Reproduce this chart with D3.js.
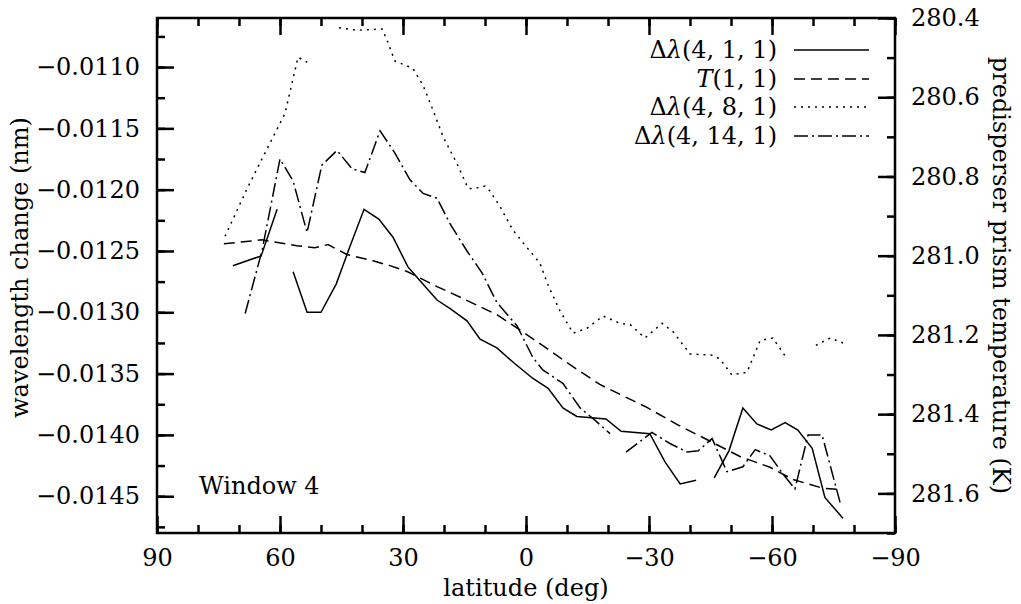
<!DOCTYPE html>
<html><head><meta charset="utf-8">
<script src="https://cdn.jsdelivr.net/npm/d3@7"></script>
<style>
body{margin:0;background:#fff;}
svg text{font-family:"DejaVu Serif",serif;font-size:24px;fill:#000;}
</style></head>
<body><svg id="c" width="1021" height="604"></svg>
<script>
// ---- data ----
const latSolid = [71.5,64.6,60.7,58.8,56.8,53.4,50.0,46.3,42.9,39.5,35.9,32.4,28.8,25.9,21.7,18.5,14.4,11.2,7.1,2.7,-1.7,-5.4,-9.0,-12.4,-19.5,-23.2,-30.2,-33.9,-37.6,-41.5,-43.7,-45.9,-49.5,-52.9,-56.3,-59.8,-63.2,-66.3,-69.8,-72.9,-77.3];
const valSolid = [-0.01262,-0.01254,-0.01216,null,-0.01267,-0.01300,-0.01300,-0.01277,-0.01246,-0.01216,-0.01224,-0.01239,-0.01263,-0.01274,-0.01290,-0.01297,-0.01307,-0.01322,-0.01329,-0.01342,-0.01354,-0.01362,-0.01378,-0.01385,-0.01387,-0.01397,-0.01399,-0.01422,-0.01440,-0.01437,null,-0.01435,-0.01413,-0.01378,-0.01391,-0.01396,-0.01390,-0.01396,-0.01411,-0.01451,-0.01468];

const latTemp = [73.7,64.4,55.9,51.5,48.3,43.7,37.3,33.2,29.0,21.7,15.4,7.1,1.5,-4.1,-10.0,-18.0,-26.1,-29.5,-36.8,-44.1,-52.2,-59.5,-65.1,-72.4,-76.6];
const valTemp = [280.970,280.960,280.975,280.980,280.972,280.997,281.013,281.025,281.040,281.078,281.108,281.149,281.187,281.227,281.270,281.325,281.366,281.383,281.426,281.464,281.507,281.534,281.565,281.587,281.590];

const latDot = [73.4,68.0,64.4,58.8,55.6,52.9,49.0,45.6,41.2,35.1,33.9,32.0,27.6,25.1,22.7,20.2,16.8,14.1,12.4,10.0,8.8,6.3,3.2,-0.2,-3.4,-5.4,-8.3,-11.5,-14.9,-18.8,-22.9,-25.4,-29.0,-33.2,-35.9,-40.0,-45.4,-47.3,-50.2,-53.9,-57.1,-60.2,-63.7,-67.0,-70.7,-74.2,-77.3];
const valDot = [-0.01238,-0.01199,-0.01175,-0.01138,-0.01092,-0.01097,null,-0.01068,-0.01070,-0.01069,-0.01078,-0.01095,-0.01101,-0.01115,-0.01135,-0.01157,-0.01179,-0.01199,-0.01199,-0.01197,-0.01201,-0.01214,-0.01233,-0.01247,-0.01260,-0.01278,-0.01299,-0.01317,-0.01313,-0.01303,-0.01309,-0.01310,-0.01321,-0.01309,-0.01316,-0.01334,-0.01335,-0.01338,-0.01351,-0.01349,-0.01323,-0.01321,-0.01338,null,-0.01327,-0.01321,-0.01325];

const latDashDot = [68.5,64.4,60.0,56.8,53.4,49.8,46.1,42.4,39.3,35.6,32.0,28.3,25.1,21.7,18.5,14.4,10.7,7.1,2.2,-1.7,-4.1,-9.0,-13.2,-16.8,-20.5,-22.5,-24.4,-30.7,-35.1,-39.3,-42.0,-45.4,-49.0,-52.9,-55.9,-59.5,-62.7,-65.6,-68.8,-72.2,-76.6];
const valDashDot = [-0.01301,-0.01250,-0.01175,-0.01193,-0.01235,-0.01180,-0.01168,-0.01183,-0.01186,-0.01152,-0.01170,-0.01192,-0.01203,-0.01207,-0.01228,-0.01250,-0.01268,-0.01292,-0.01311,-0.01337,-0.01347,-0.01358,-0.01378,-0.01388,-0.01399,null,-0.01414,-0.01398,-0.01407,-0.01414,-0.01413,-0.01403,-0.01430,-0.01426,-0.01412,-0.01417,-0.01432,-0.01444,-0.01400,-0.01400,-0.01455];

const xTicks = [90,60,30,0,-30,-60,-90];
const yLeftTicks = [-0.0110,-0.0115,-0.0120,-0.0125,-0.0130,-0.0135,-0.0140,-0.0145];
const yRightTicks = [280.4,280.6,280.8,281.0,281.2,281.4,281.6];

const legendLabels = [
  [["Δ",""],["λ","i"],["(4, 1, 1)",""]],
  [["T","i"],["(1, 1)",""]],
  [["Δ",""],["λ","i"],["(4, 8, 1)",""]],
  [["Δ",""],["λ","i"],["(4, 14, 1)",""]]
];

// ---- layout ----
const L=157, R=895, T=18, B=533;
const svg = d3.select("#c");
const x = d3.scaleLinear().domain([90,-90]).range([L,R]);
const yL = d3.scaleLinear().domain([-0.0148,-0.0106]).range([B,T]);
const yR = d3.scaleLinear().domain([280.4,281.7]).range([T,B]);

const minus = s => s.replace(/-/g,"\u2212");
const MAJ=17, MIN=8;

function styleAxis(g){
  g.select(".domain").remove();
  g.selectAll("line").attr("stroke","#000").attr("stroke-width",2.5);
  g.selectAll("text").attr("font-family","DejaVu Serif").attr("font-size",24);
}
// minor tick ranges
const xMinor = d3.range(90,-91,-10);
const yLMinor = d3.range(0,17).map(i=>-0.0107-0 - 0 + (-0.00025*i) ).map(v=>+v.toFixed(5)).filter(v=>v>=-0.0148&&v<=-0.0106);
const yLMinorAll = d3.range(-0.01475,-0.0106,0.00025).map(v=>+v.toFixed(5));
const yRMinor = d3.range(280.4,281.71,0.1).map(v=>+v.toFixed(1));

// bottom
svg.append("g").attr("transform",`translate(0,${B})`)
  .call(d3.axisBottom(x).tickValues(xMinor).tickSize(-MIN).tickFormat("")).call(styleAxis);
svg.append("g").attr("transform",`translate(0,${B})`)
  .call(d3.axisBottom(x).tickValues(xTicks).tickSize(-MAJ).tickPadding(10).tickFormat(d=>minus(String(d)))).call(styleAxis)
  .selectAll("text").attr("dy","0.95em");
// top
svg.append("g").attr("transform",`translate(0,${T})`)
  .call(d3.axisTop(x).tickValues(xMinor).tickSize(-MIN).tickFormat("")).call(styleAxis);
svg.append("g").attr("transform",`translate(0,${T})`)
  .call(d3.axisTop(x).tickValues(xTicks).tickSize(-MAJ).tickFormat("")).call(styleAxis);
// left
svg.append("g").attr("transform",`translate(${L},0)`)
  .call(d3.axisLeft(yL).tickValues(yLMinorAll).tickSize(-MIN).tickFormat("")).call(styleAxis);
svg.append("g").attr("transform",`translate(${L},0)`)
  .call(d3.axisLeft(yL).tickValues(yLeftTicks).tickSize(-MAJ).tickPadding(17).tickFormat(d=>minus(d3.format(".4f")(d)))).call(styleAxis);
// right
svg.append("g").attr("transform",`translate(${R},0)`)
  .call(d3.axisRight(yR).tickValues(yRMinor).tickSize(-MIN).tickFormat("")).call(styleAxis);
svg.append("g").attr("transform",`translate(${R},0)`)
  .call(d3.axisRight(yR).tickValues(yRightTicks).tickSize(-MAJ).tickPadding(16).tickFormat(d3.format(".1f"))).call(styleAxis);

// frame
svg.append("rect").attr("x",L).attr("y",T).attr("width",R-L).attr("height",B-T)
  .attr("fill","none").attr("stroke","#000").attr("stroke-width",2.5);

// clip
svg.append("clipPath").attr("id","clip").append("rect").attr("x",L).attr("y",T).attr("width",R-L).attr("height",B-T);
const plot = svg.append("g").attr("clip-path","url(#clip)");

const styles = [
  {lat:latSolid, val:valSolid, y:yL, dash:null},
  {lat:latTemp, val:valTemp, y:yR, dash:"11,6"},
  {lat:latDot, val:valDot, y:yL, dash:"2,5"},
  {lat:latDashDot, val:valDashDot, y:yL, dash:"14,4,2,4"}
];
styles.forEach(s=>{
  const pts = s.lat.map((la,i)=>({la, v:s.val[i]}));
  const line = d3.line().defined(d=>d.v!=null).x(d=>x(d.la)).y(d=>s.y(d.v));
  plot.append("path").attr("d",line(pts)).attr("fill","none").attr("stroke","#000")
    .attr("stroke-width",1.5).attr("stroke-dasharray",s.dash);
});

// legend
const legY = [50,79,107,136];
legendLabels.forEach((parts,i)=>{
  const t = svg.append("text").attr("x",777).attr("y",legY[i]+8).attr("text-anchor","end");
  parts.forEach(p=>{
    const ts = t.append("tspan").text(p[0]);
    if(p[1]==="i") ts.attr("font-style","italic");
  });
  svg.append("line").attr("x1",794).attr("x2",869).attr("y1",legY[i]).attr("y2",legY[i])
    .attr("stroke","#000").attr("stroke-width",1.5).attr("stroke-dasharray",styles[i].dash);
});

// annotations / axis titles
svg.append("text").attr("x",199).attr("y",494).text("Window 4");
svg.append("text").attr("x",(L+R)/2).attr("y",596).attr("text-anchor","middle").text("latitude (deg)");
svg.append("text").attr("transform",`translate(28,${(T+B)/2 -8}) rotate(-90)`).attr("text-anchor","middle").text("wavelength change (nm)");
svg.append("text").attr("transform",`translate(993,${(T+B)/2}) rotate(90)`).attr("text-anchor","middle").text("predisperser prism temperature (K)");
</script></body></html>
